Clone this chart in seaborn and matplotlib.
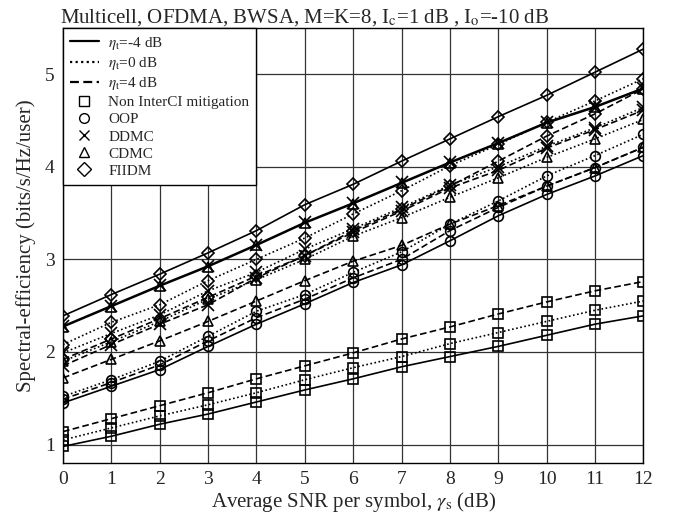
import matplotlib
matplotlib.use("Agg")
import matplotlib.pyplot as plt
import seaborn as sns
from matplotlib.lines import Line2D

snr_db = list(range(13))

# Non InterCI mitigation
non_m4 = [0.98, 1.09, 1.22, 1.33, 1.46, 1.59, 1.71, 1.84, 1.95, 2.06, 2.18, 2.30, 2.39]
non_0 = [1.05, 1.18, 1.31, 1.43, 1.56, 1.70, 1.83, 1.95, 2.09, 2.21, 2.33, 2.45, 2.55]
non_4 = [1.14, 1.28, 1.42, 1.56, 1.71, 1.85, 1.99, 2.14, 2.27, 2.41, 2.54, 2.66, 2.76]

# OOP
oop_m4 = [1.45, 1.63, 1.81, 2.06, 2.30, 2.52, 2.75, 2.94, 3.20, 3.47, 3.70, 3.90, 4.12]
oop_0 = [1.52, 1.70, 1.90, 2.17, 2.44, 2.62, 2.86, 3.08, 3.38, 3.63, 3.90, 4.12, 4.35]
oop_4 = [1.49, 1.67, 1.86, 2.12, 2.37, 2.57, 2.80, 3.00, 3.31, 3.56, 3.79, 3.99, 4.21]

# DDMC
ddmc_m4 = [2.28, 2.50, 2.72, 2.93, 3.16, 3.40, 3.61, 3.83, 4.05, 4.26, 4.48, 4.65, 4.85]
ddmc_0 = [1.99, 2.20, 2.40, 2.66, 2.86, 3.11, 3.33, 3.56, 3.80, 4.00, 4.22, 4.42, 4.64]
ddmc_4 = [1.85, 2.08, 2.30, 2.51, 2.80, 3.04, 3.29, 3.52, 3.77, 3.96, 4.20, 4.40, 4.61]

# CDMC
cdmc_m4 = [2.27, 2.49, 2.71, 2.92, 3.15, 3.39, 3.60, 3.82, 4.04, 4.25, 4.47, 4.64, 4.84]
cdmc_0 = [1.90, 2.11, 2.33, 2.57, 2.78, 3.00, 3.25, 3.45, 3.67, 3.88, 4.10, 4.30, 4.51]
cdmc_4 = [1.72, 1.92, 2.12, 2.33, 2.55, 2.77, 2.98, 3.15, 3.38, 3.58, 3.79, 3.99, 4.21]

# FIIDM
fiidm_m4 = [2.39, 2.62, 2.84, 3.07, 3.31, 3.59, 3.81, 4.06, 4.30, 4.54, 4.77, 5.02, 5.27]
fiidm_0 = [2.08, 2.32, 2.51, 2.77, 3.00, 3.23, 3.49, 3.74, 4.01, 4.24, 4.48, 4.71, 4.95]
fiidm_4 = [1.92, 2.14, 2.36, 2.59, 2.82, 3.04, 3.31, 3.54, 3.79, 4.06, 4.33, 4.57, 4.84]

methods = ["Non InterCI mitigation", "OOP", "DDMC", "CDMC", "FIIDM"]
markers = ["s", "o", "x", "^", "D"]
eta_labels = [r"$\eta_\mathrm{t}$=-4 dB", r"$\eta_\mathrm{t}$=0 dB", r"$\eta_\mathrm{t}$=4 dB"]
styles = ["-", (0, (1, 1.5)), (0, (4, 2))]

series = [
    [non_m4, non_0, non_4],
    [oop_m4, oop_0, oop_4],
    [ddmc_m4, ddmc_0, ddmc_4],
    [cdmc_m4, cdmc_0, cdmc_4],
    [fiidm_m4, fiidm_0, fiidm_4],
]

sns.set_style("white")
plt.rcParams["font.family"] = ["Liberation Serif", "DejaVu Serif"]
plt.rcParams["mathtext.fontset"] = "stix"

fig = plt.figure(figsize=(6.74, 5.14), dpi=100)
ax = fig.add_axes([0.0935, 0.099, 0.861, 0.847])

for vals3, mk in zip(series, markers):
    for vals, ls in zip(vals3, styles):
        ms = 7 if mk in ("s", "o", "^") else (6 if mk == "D" else 8)
        sns.lineplot(x=snr_db, y=vals, ax=ax, color="black", linestyle=ls,
                     linewidth=1.2, marker=mk, markersize=ms,
                     markerfacecolor="none", markeredgecolor="black",
                     markeredgewidth=1.2, legend=False)

ax.set_xlim(0, 12)
ax.set_ylim(0.8, 5.5)
ax.set_xticks(range(13))
ax.set_yticks([1, 2, 3, 4, 5])
ax.grid(True, color="#333333", linewidth=0.9)
for sp in ax.spines.values():
    sp.set_color("black")
    sp.set_linewidth(1.0)
ax.tick_params(labelsize=14, length=0, pad=6)

ax.set_xlabel(r"Average SNR per symbol, $\gamma_\mathrm{s}$ (dB)", fontsize=15, labelpad=1)
ax.set_ylabel("Spectral-efficiency (bits/s/Hz/user)", fontsize=15, labelpad=6)
ax.set_title(r"Multicell, OFDMA, BWSA, M=K=8, I$_\mathrm{c}$=1 dB , I$_\mathrm{o}$=-10 dB",
             fontsize=15, loc="left", x=-0.005, pad=4)

handles = [Line2D([], [], color="black", linestyle=ls, linewidth=1.6) for ls in styles]
handles += [Line2D([], [], color="black", linestyle="none", marker=mk,
                   markerfacecolor="none", markersize=7) for mk in markers]
labels = eta_labels + methods
leg = ax.legend(handles, labels, loc="upper left", fontsize=11, frameon=True,
                fancybox=False, framealpha=1, edgecolor="black",
                borderaxespad=0, handlelength=1.9, labelspacing=0.22,
                borderpad=0.45, handletextpad=0.6)
leg.get_frame().set_linewidth(1.0)

fig.savefig("out.png", dpi=100)
